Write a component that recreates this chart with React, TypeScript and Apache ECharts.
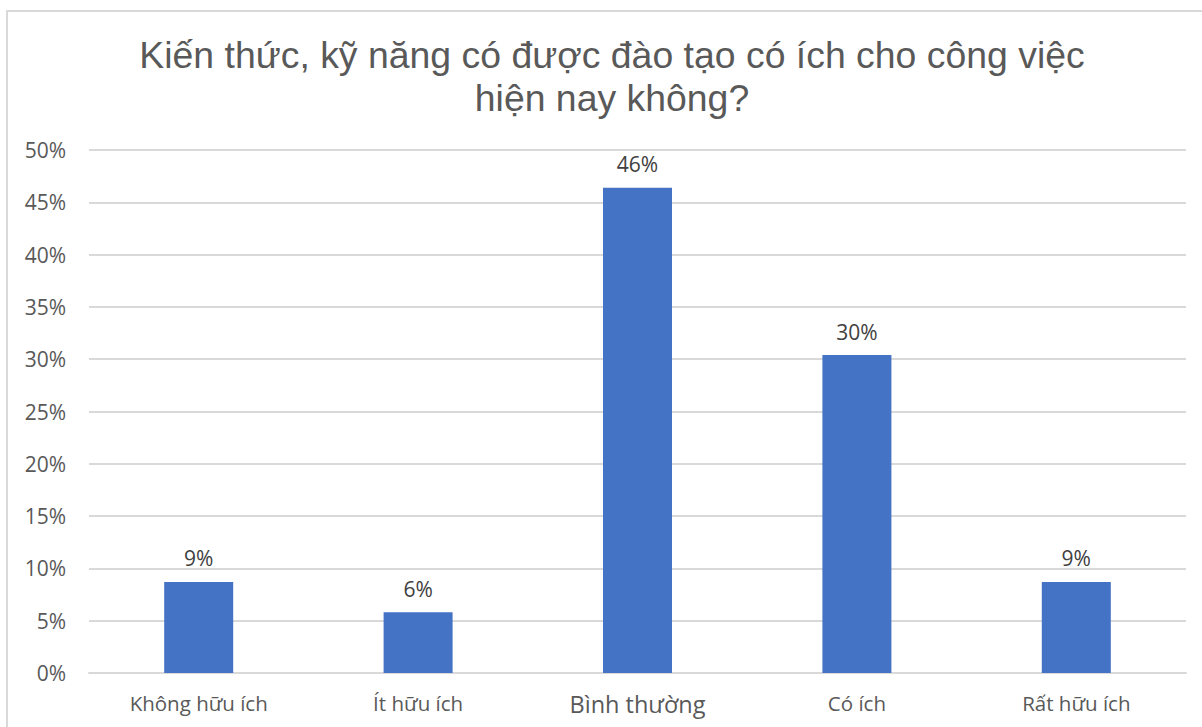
import React, { useEffect, useRef } from "react";
import * as echarts from "echarts";

const titleLines = ["Kiến thức, kỹ năng có được đào tạo có ích cho công việc", "hiện nay không?"];
const categories = ["Không hữu ích", "Ít hữu ích", "Bình thường", "Có ích", "Rất hữu ích"];
const values = [8.7, 5.8, 46.4, 30.4, 8.7];
const yTicks = [0, 5, 10, 15, 20, 25, 30, 35, 40, 45, 50];

export default function App() {
  const ref = useRef<HTMLDivElement>(null);
  useEffect(() => {
    const chart = echarts.init(ref.current!, null, { renderer: "svg" });
    const font = "'Open Sans', 'Noto Sans', sans-serif";
    chart.setOption({
      animation: false,
      backgroundColor: "#ffffff",
      title: {
        text: titleLines.join("\n"),
        left: 607,
        textAlign: "center",
        top: 28,
        textStyle: {
          fontFamily: "'Liberation Sans', Arial, sans-serif",
          fontSize: 37.4,
          fontWeight: "normal",
          color: "#595959",
          lineHeight: 43,
        },
      },
      graphic: [
        {
          type: "rect",
          shape: { x: 7, y: 11, width: 1220, height: 740 },
          style: { fill: "none", stroke: "#d9d9d9", lineWidth: 2 },
          silent: true,
        },
      ],
      grid: { left: 89, right: 1202 - 1186, top: 150, bottom: 727 - 673 },
      xAxis: {
        type: "category",
        data: categories,
        axisLine: { show: true, lineStyle: { color: "#d9d9d9", width: 2 } },
        axisTick: { show: false },
        axisLabel: {
          interval: 0,
          color: "#595959",
          fontFamily: font,
          fontSize: 20.5,
          margin: 19,
          formatter: (v: string) => (v === "Bình thường" ? "{big|" + v + "}" : v),
          rich: { big: { fontSize: 23.5, fontFamily: font, color: "#595959" } },
        },
      },
      yAxis: {
        type: "value",
        min: 0,
        max: 50,
        interval: 5,
        axisLine: { show: false },
        axisTick: { show: false },
        splitLine: { lineStyle: { color: "#d9d9d9", width: 2 } },
        axisLabel: {
          color: "#595959",
          fontFamily: font,
          fontSize: 21,
          margin: 23,
          formatter: (v: number) => (yTicks.includes(v) ? v + "%" : ""),
        },
      },
      series: [
        {
          type: "bar",
          data: values,
          barWidth: 69,
          itemStyle: { color: "#4472c4" },
          label: {
            show: true,
            position: "top",
            distance: 13,
            color: "#404040",
            fontFamily: font,
            fontSize: 21,
            formatter: (p: any) => Math.round(p.value) + "%",
          },
        },
      ],
    });
    return () => chart.dispose();
  }, []);
  return (
    <div
      ref={ref}
      style={{ position: "absolute", left: 0, top: 0, width: 1202, height: 727 }}
    />
  );
}
